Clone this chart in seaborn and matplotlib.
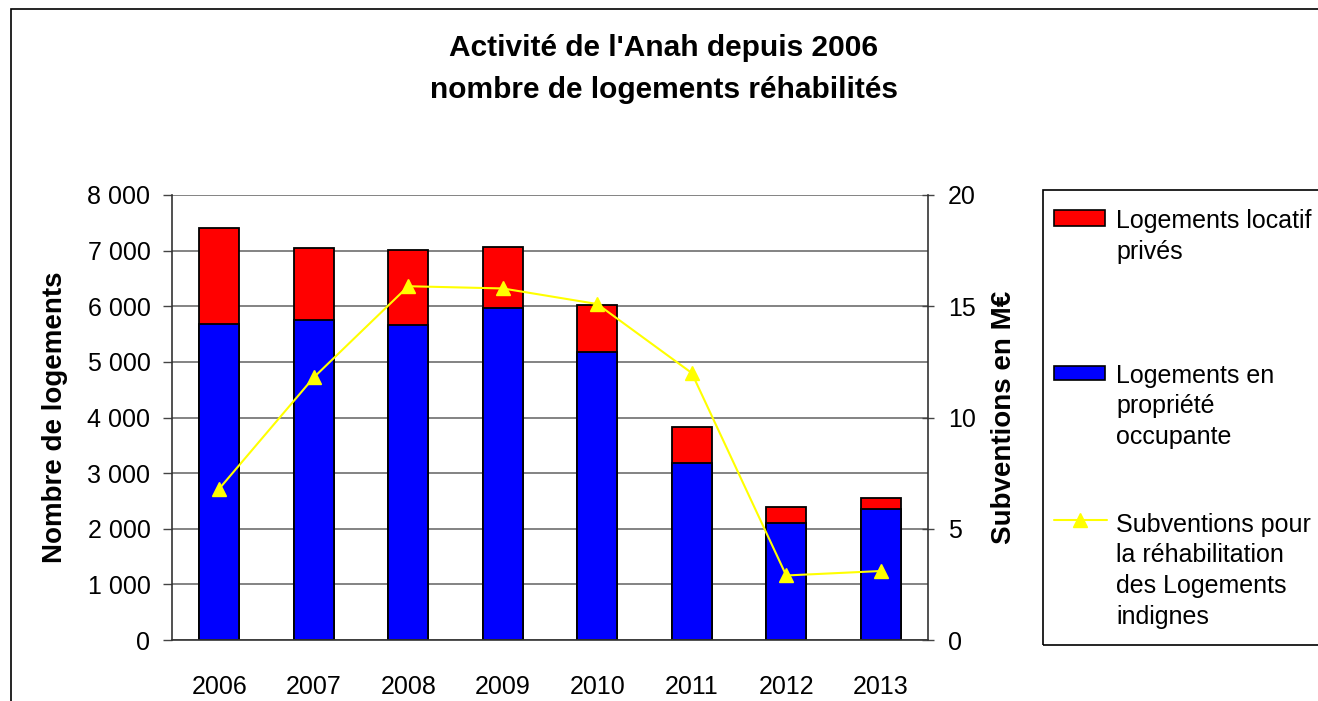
import numpy as np
import matplotlib
matplotlib.use("Agg")
import matplotlib.pyplot as plt
from matplotlib.patches import Rectangle
from matplotlib.lines import Line2D
from matplotlib.ticker import FuncFormatter
import seaborn as sns

# Données
annees = ["2006", "2007", "2008", "2009", "2010", "2011", "2012", "2013"]
proprietaires = [5680, 5755, 5660, 5965, 5175, 3190, 2110, 2350]
locatifs = [1730, 1290, 1350, 1105, 850, 635, 275, 205]
subventions = [6.8, 11.8, 15.9, 15.8, 15.1, 12.0, 2.9, 3.1]

titre = ["Activité de l'Anah depuis 2006", "nombre de logements réhabilités"]
# le « s » final est coupé par le bord dans l'original
lbl_locatif = "Logements locatif\nprivés"
lbl_proprio = "Logements en\npropriété\noccupante"
lbl_subv = "Subventions pour\nla réhabilitation\ndes Logements\nindignes"

ROUGE, BLEU, JAUNE = "#FF0000", "#0000FF", "#FFFF00"

sns.set_theme(style="white")
plt.rcParams["font.family"] = ["Liberation Sans", "DejaVu Sans"]
plt.rcParams.update({"text.color": "black", "axes.labelcolor": "black",
                     "xtick.color": "black", "ytick.color": "black"})

W, H = 1318, 701
fig = plt.figure(figsize=(W / 100, H / 100), dpi=100)
ax = fig.add_axes([172 / W, 61 / H, 756 / W, 445 / H])

# Barres empilées : total en rouge, propriétaires en bleu par-dessus
totaux = [p + l for p, l in zip(proprietaires, locatifs)]
sns.barplot(x=annees, y=totaux, color=ROUGE, saturation=1, width=0.42,
            edgecolor="black", linewidth=1.3, ax=ax)
sns.barplot(x=annees, y=proprietaires, color=BLEU, saturation=1, width=0.42,
            edgecolor="black", linewidth=1.3, ax=ax)

ax.set_xlim(-0.5, len(annees) - 0.5)
ax.set_ylim(0, 8000)
ax.set_yticks(np.arange(0, 8001, 1000))
ax.yaxis.set_major_formatter(FuncFormatter(lambda v, p: f"{int(v):,}".replace(",", " ")))
ax.set_axisbelow(True)
ax.yaxis.grid(True, color="#6e6e6e", linewidth=1.2)
ax.set_xticks(np.arange(-0.5, len(annees), 1), minor=True)
ax.tick_params(axis="x", which="major", length=0, pad=25, labelsize=18, labelcolor="black")
ax.tick_params(axis="x", which="minor", length=6, width=1, color="#444444", direction="out")
ax.tick_params(axis="y", length=6.5, width=1, color="#444444", direction="out",
               left=True, labelsize=18, pad=9, labelcolor="black")
ax.set_ylabel("Nombre de logements", fontsize=20, fontweight="bold", labelpad=14)
ax.set_xlabel("")
for s in ["top", "right"]:
    ax.spines[s].set_visible(False)
for s in ["left", "bottom"]:
    ax.spines[s].set_color("#333333")
    ax.spines[s].set_linewidth(1.2)

# Axe secondaire : subventions
ax2 = ax.twinx()
ax2.plot(np.arange(len(annees)), subventions, color=JAUNE, linewidth=1.5,
         marker="^", markersize=9.5, markerfacecolor=JAUNE, markeredgecolor=JAUNE)
ax2.set_ylim(0, 20)
ax2.set_yticks([0, 5, 10, 15, 20])
ax2.tick_params(axis="y", length=9, width=1, color="#444444", direction="inout",
                right=True, labelsize=18, pad=10, labelcolor="black")
ax2.set_ylabel("Subventions en M€", fontsize=20, fontweight="bold", labelpad=11)
for s in ["top", "left", "bottom"]:
    ax2.spines[s].set_visible(False)
ax2.spines["right"].set_color("#333333")
ax2.spines["right"].set_linewidth(1.2)


def fx(x):
    return x / W


def fy(y):
    return 1 - y / H


# Titre
for ligne, yb in zip(titre, [56, 98]):
    fig.text(fx(664), fy(yb), ligne, ha="center", va="baseline",
             fontsize=21.5, fontweight="bold")

# Cadre extérieur du graphique
fig.add_artist(Rectangle((fx(11), -0.2), 2, fy(9) + 0.2, transform=fig.transFigure,
                         fill=False, edgecolor="black", linewidth=1.2))

# Légende dessinée à la main
fig.add_artist(Rectangle((fx(1043), fy(645)), 2, (645 - 190) / H, transform=fig.transFigure,
                         fill=False, edgecolor="black", linewidth=1.2))
fig.add_artist(Rectangle((fx(1054), fy(226)), 51 / W, 16 / H, transform=fig.transFigure,
                         facecolor=ROUGE, edgecolor="black", linewidth=1.2))
fig.add_artist(Rectangle((fx(1054), fy(380)), 51 / W, 14 / H, transform=fig.transFigure,
                         facecolor=BLEU, edgecolor="black", linewidth=1.2))
fig.add_artist(Line2D([fx(1054), fx(1080), fx(1107)], [fy(520)] * 3, transform=fig.transFigure,
                      color=JAUNE, linewidth=1.5, marker="^", markersize=9.5,
                      markevery=[1], markerfacecolor=JAUNE, markeredgecolor=JAUNE))

for texte, bases in [(lbl_locatif, [228, 259]),
                     (lbl_proprio, [383, 413, 444]),
                     (lbl_subv, [532, 562, 593, 624])]:
    for ligne, yb in zip(texte.split("\n"), bases):
        fig.text(fx(1116), fy(yb), ligne, ha="left", va="baseline", fontsize=18)

fig.savefig("out.png", dpi=100)
